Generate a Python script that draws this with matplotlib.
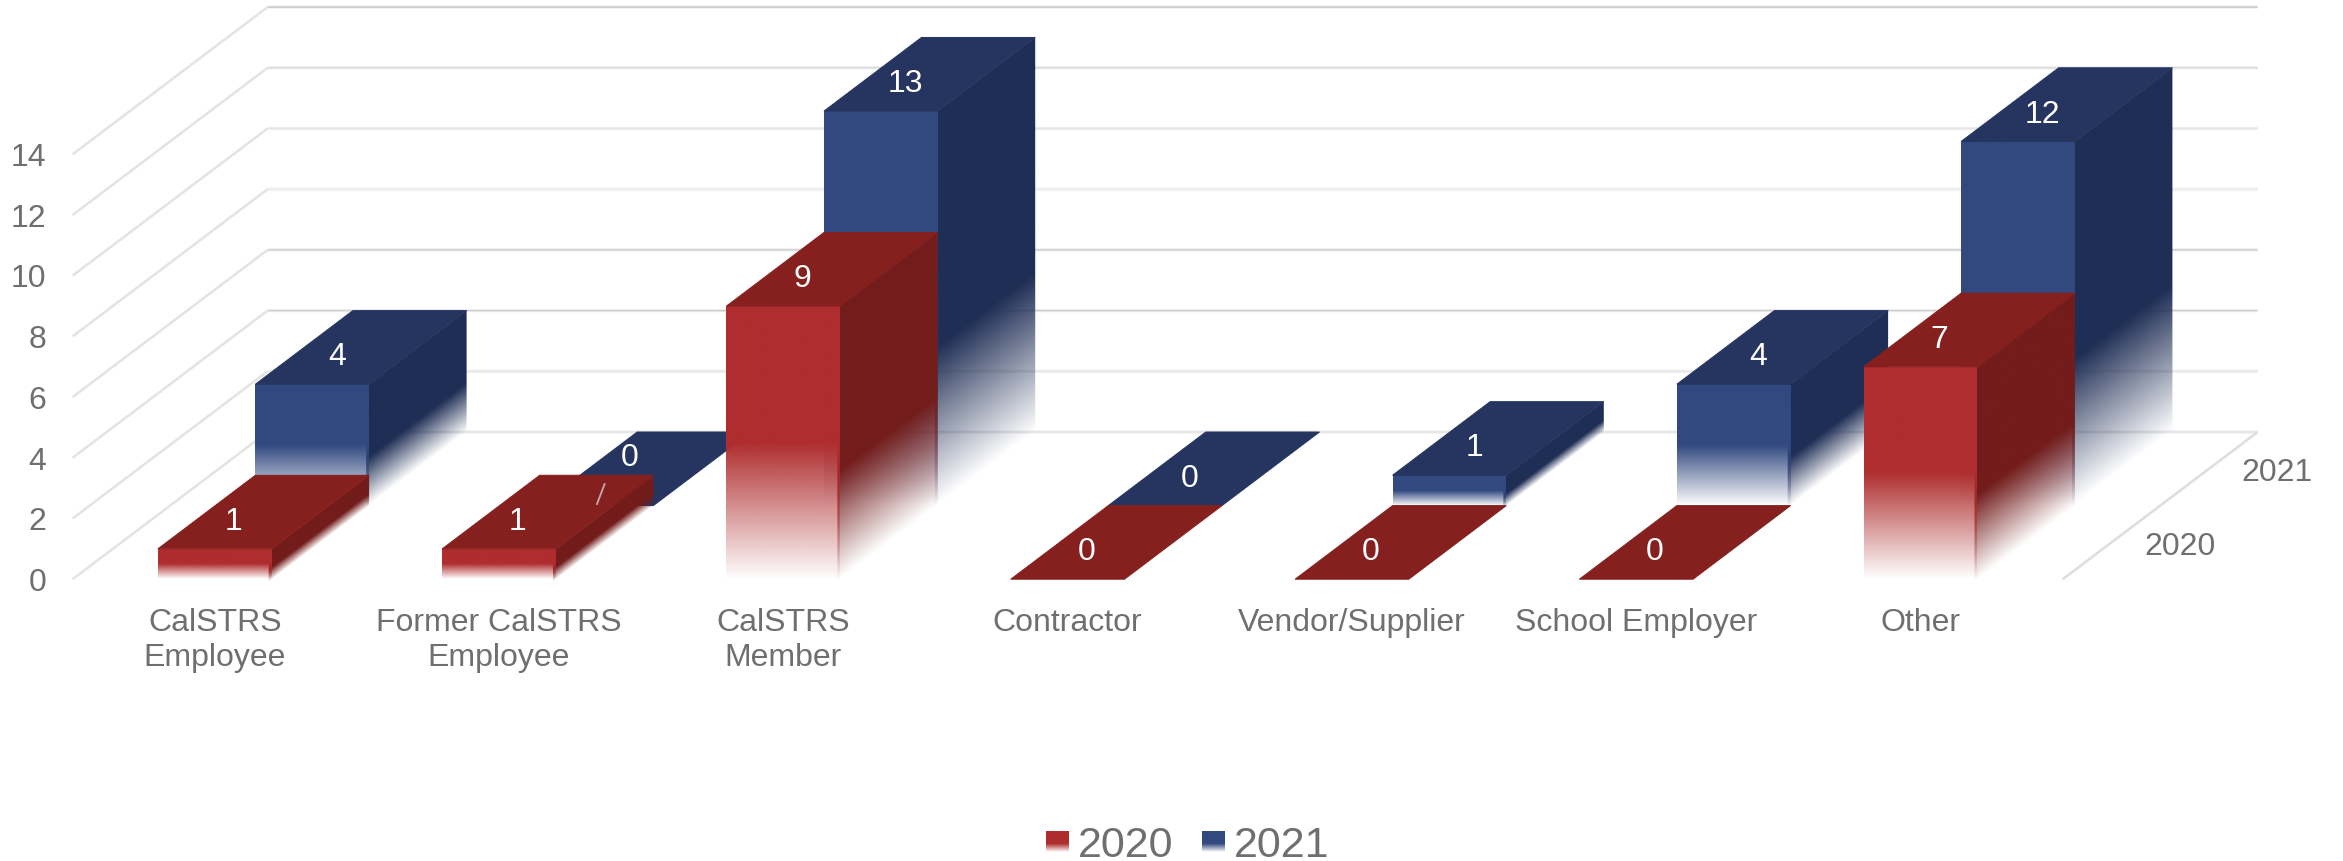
import numpy as np
import matplotlib

matplotlib.use("Agg")
import matplotlib.pyplot as plt
from matplotlib.patches import Polygon
from matplotlib.transforms import Affine2D

plt.rcParams["font.family"] = ["Liberation Sans", "DejaVu Sans"]

categories = [
    "CalSTRS\nEmployee",
    "Former CalSTRS\nEmployee",
    "CalSTRS\nMember",
    "Contractor",
    "Vendor/Supplier",
    "School Employer",
    "Other",
]
years = ["2020", "2021"]
values_2020 = [1, 1, 9, 0, 0, 0, 7]
values_2021 = [4, 0, 13, 0, 1, 4, 12]
value_ticks = [0, 2, 4, 6, 8, 10, 12, 14]

RED = {"front": "#AF2D2E", "top": "#85201F", "side": "#731C1B"}
BLUE = {"front": "#324980", "top": "#25355F", "side": "#1F2E55"}
TEXT = "#6F6F6F"
GRID_BAND = "#EEEEEE"
# core line of each back wall gridline, by tick
GRID_CORE = ["#E2E2E2", "#EAEAEA", "#CFCFCF", "#CCCCCC", "#F0F0F0", "#E6E6E6", "#D8D8D8", "#C4C4C4"]

W, H = 2343, 862

# pixels per category / per value unit, front plane
CAT_PX = 284.3
VAL_PX = 30.35
CAT0_PX = 214.75
VAL0_PX = 580.2
# shift of one depth row, in category and value units
DEPTH_X = 97.5 / CAT_PX
DEPTH_Y = 73.6 / VAL_PX
BAR_HALF = 0.2
PAD = 0.1


def project(cat, val, depth):
    return cat + depth * DEPTH_X, val + depth * DEPTH_Y


def fade_image(color, solid_until):
    # RGBA ramp a bit larger than the face, so the image edges stay outside the clip
    pos = np.linspace(-PAD, 1 + PAD, 300)
    alpha = np.clip(pos / (1 - solid_until), 0, 1)
    img = np.zeros((300, 2, 4))
    img[..., :3] = matplotlib.colors.to_rgb(color)
    img[..., 3] = alpha[:, None]
    return img


def faded_face(ax, p0, p1, p3, color, solid_until, zorder, bleed=0.0):
    # p0 bottom left, p1 bottom right, p3 top left of a parallelogram
    p0, p1, p3 = np.array(p0), np.array(p1), np.array(p3)
    mat = np.array(
        [
            [p1[0] - p0[0], p3[0] - p0[0], p0[0]],
            [p1[1] - p0[1], p3[1] - p0[1], p0[1]],
            [0, 0, 1],
        ]
    )
    im = ax.imshow(
        fade_image(color, solid_until),
        origin="lower",
        extent=(-PAD, 1 + PAD, -PAD, 1 + PAD),
        aspect="auto",
        interpolation="bilinear",
        interpolation_stage="rgba",
        transform=Affine2D(mat) + ax.transData,
        zorder=zorder,
    )
    # bleed runs the clip under the neighbouring face to close the seam
    b0 = p0 - bleed * (p1 - p0)
    clip = Polygon([b0, p1, p1 + p3 - p0, b0 + p3 - p0], closed=True, transform=ax.transData)
    im.set_clip_path(clip)


def draw_bar(ax, cat, val, depth, colors, zorder):
    x0, x1 = cat - BAR_HALF, cat + BAR_HALF
    if val > 0:
        faded_face(
            ax,
            project(x1, 0, depth),
            project(x1, 0, depth + 1),
            project(x1, val, depth),
            colors["side"],
            0.6,
            zorder,
            bleed=0.03,
        )
        faded_face(
            ax,
            project(x0, 0, depth),
            project(x1, 0, depth),
            project(x0, val, depth),
            colors["front"],
            0.5,
            zorder,
        )
    top = [
        project(x0, val, depth),
        project(x1, val, depth),
        project(x1, val, depth + 1),
        project(x0, val, depth + 1),
    ]
    ax.add_patch(
        Polygon(top, closed=True, fc=colors["top"], ec=colors["top"], lw=0.7, zorder=zorder)
    )


def grid_line(ax, pts, color, lw_px, zorder=1):
    xs, ys = zip(*pts)
    ax.plot(xs, ys, color=color, lw=lw_px * 0.72, solid_capstyle="butt", snap=False, zorder=zorder)


fig = plt.figure(figsize=(W / 100, H / 100), dpi=100)
ax = fig.add_axes([0, 0, 1, 1])
ax.set_xlim(-CAT0_PX / CAT_PX, (W - CAT0_PX) / CAT_PX)
ax.set_ylim((VAL0_PX - H) / VAL_PX, VAL0_PX / VAL_PX)
ax.set_autoscale_on(False)
ax.axis("off")

n_cat = len(categories)
left, right = -0.5, n_cat - 0.5

# walls and floor
for i, v in enumerate(value_ticks):
    grid_line(ax, [project(left, v, 0), project(left, v, 2)], "#E4E4E4", 2.6)
    grid_line(ax, [project(left, v, 2), project(right, v, 2)], GRID_BAND, 3.2)
    grid_line(ax, [project(left, v, 2), project(right, v, 2)], GRID_CORE[i], 1.3)
    ax.annotate(
        str(v),
        project(left, v, 0),
        xytext=(-19, -2),
        textcoords="offset points",
        ha="right",
        va="center",
        fontsize=23,
        color=TEXT,
    )
grid_line(ax, [project(right, 0, 2), project(right, 0, 0)], "#DEDEDE", 2.6)

# back row first, then the front row over it
series = [
    (values_2021, 1, BLUE, (-24, 9)),
    (values_2020, 0, RED, (-30, 9)),
]
for vals, depth, colors, label_off in series:
    for c, v in enumerate(vals):
        draw_bar(ax, c, v, depth, colors, 3 - depth)
for vals, depth, colors, label_off in series:
    for c, v in enumerate(vals):
        off = label_off
        # this label sits clear of the red bar in front of it
        if depth == 1 and c == 1:
            off = (-16, -12)
        ax.annotate(
            str(v),
            project(c, v, depth + 0.5),
            xytext=(off[0] * 0.72, -off[1] * 0.72),
            textcoords="offset points",
            ha="center",
            va="center",
            fontsize=23,
            color="white",
            zorder=6,
        )

# leader line of the moved label
leader_start = ax.transData.inverted().transform((604.6, H - 485))
leader_end = ax.transData.inverted().transform((597, H - 505))
ax.plot(
    [leader_start[0], leader_end[0]],
    [leader_start[1], leader_end[1]],
    color="#C4ABAB",
    lw=1.3,
    zorder=6,
)

# category labels under the front edge
for c, name in enumerate(categories):
    ax.annotate(
        name,
        (c, 0),
        xytext=(0, -20),
        textcoords="offset points",
        ha="center",
        va="top",
        fontsize=23,
        color=TEXT,
        linespacing=1.24,
    )

# depth axis labels
for d, year in enumerate(years):
    ax.annotate(
        year,
        project(right, 0, d + 0.5),
        xytext=(49, -2.5),
        textcoords="offset points",
        ha="center",
        va="center",
        fontsize=23,
        color=TEXT,
    )

# legend
legend_items = [(1046, 1078, years[0], RED), (1202, 1234, years[1], BLUE)]
for sx, tx, year, colors in legend_items:
    swatch = fig.add_axes([sx / W, 1 - 853 / H, 23 / W, 21 / H])
    swatch.imshow(
        fade_image(colors["front"], 0.6),
        origin="lower",
        extent=(-PAD, 1 + PAD, -PAD, 1 + PAD),
        aspect="auto",
        interpolation="bilinear",
        interpolation_stage="rgba",
    )
    swatch.set_xlim(0, 1)
    swatch.set_ylim(0, 1)
    swatch.axis("off")
    fig.text(tx / W, 1 - 846 / H, year, fontsize=31, color=TEXT, ha="left", va="center")

fig.savefig("out.png", dpi=100, facecolor="white")
